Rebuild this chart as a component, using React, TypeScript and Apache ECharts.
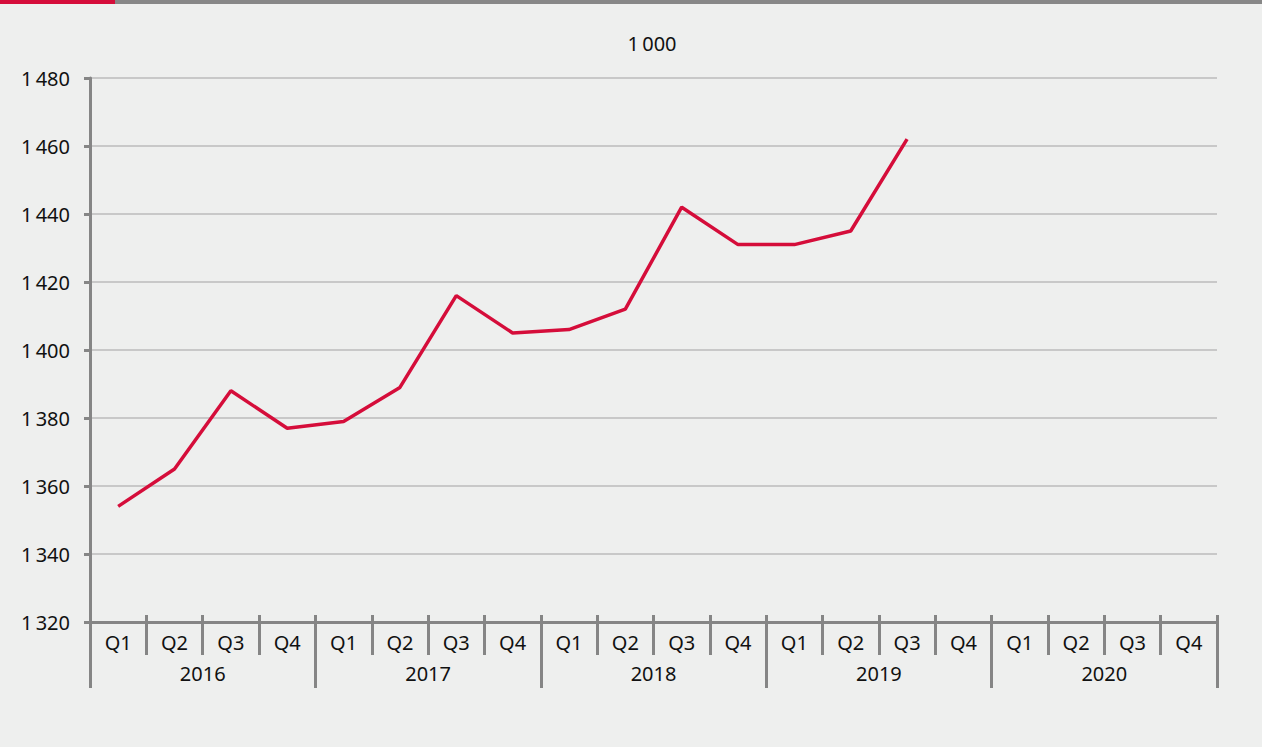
import React, { useEffect, useRef } from "react";
import * as echarts from "echarts";

const quarters = ["Q1", "Q2", "Q3", "Q4"];
const years = ["2016", "2017", "2018", "2019", "2020"];
const categories: string[] = years.flatMap((y) => quarters.map((q) => `${q} ${y}`));
const values: (number | null)[] = [
  1354, 1365, 1388, 1377,
  1379, 1389, 1416, 1405,
  1406, 1412, 1442, 1431,
  1431, 1435, 1462, null,
  null, null, null, null,
];
const unitLabel = "1\u2009000";
const yMin = 1320;
const yMax = 1480;
const yStep = 20;

const fmt = (v: number) => {
  const s = String(Math.round(v));
  return s.replace(/\B(?=(\d{3})+(?!\d))/g, "\u2009");
};

export default function App() {
  const ref = useRef<HTMLDivElement>(null);
  useEffect(() => {
    if (!ref.current) return;
    const chart = echarts.init(ref.current, undefined, { renderer: "svg" });
    const axisGray = "#858585";
    const font = "Noto Sans";
    const fs = 20;
    chart.setOption({
      animation: false,
      backgroundColor: "#eeefee",
      textStyle: { fontFamily: font },
      grid: { left: 90, right: 45, top: 78, bottom: 125 },
      graphic: [
        { type: "rect", shape: { x: 0, y: 0, width: 115, height: 4 }, style: { fill: "#d50d3a" } },
        { type: "rect", shape: { x: 115, y: 0, width: 1147, height: 4 }, style: { fill: "#878787" } },
        {
          type: "text",
          x: 652,
          y: 43,
          style: { text: unitLabel, fontSize: fs, fontFamily: font, fill: "#111", align: "center", verticalAlign: "middle" },
        },
      ],
      xAxis: [
        {
          type: "category",
          data: categories,
          boundaryGap: true,
          position: "bottom",
          axisLine: { show: true, lineStyle: { color: axisGray, width: 3 } },
          axisTick: { show: true, interval: 0, length: 33, lineStyle: { color: axisGray, width: 3 } },
          axisLabel: {
            interval: 0,
            margin: 10,
            fontSize: fs,
            color: "#111",
            fontFamily: font,
            formatter: (v: string) => v.split(" ")[0],
          },
          splitLine: { show: false },
        },
        {
          type: "category",
          data: years,
          boundaryGap: true,
          position: "bottom",
          axisLine: { show: false },
          axisTick: { show: true, interval: 0, length: 66, lineStyle: { color: axisGray, width: 3 } },
          axisLabel: { interval: 0, margin: 41, fontSize: fs, color: "#111", fontFamily: font },
          splitLine: { show: false },
        },
        {
          type: "category",
          data: categories,
          boundaryGap: true,
          position: "bottom",
          axisLine: { show: false },
          axisTick: { show: true, inside: true, interval: 0, length: 7, lineStyle: { color: axisGray, width: 3 } },
          axisLabel: { show: false },
          splitLine: { show: false },
        },
      ],
      yAxis: {
        type: "value",
        min: yMin,
        max: yMax,
        interval: yStep,
        axisLine: { show: true, lineStyle: { color: axisGray, width: 3 } },
        axisTick: { show: true, length: 6, lineStyle: { color: axisGray, width: 3 } },
        axisLabel: { margin: 20, fontSize: fs, color: "#111", fontFamily: font, formatter: (v: number) => fmt(v) },
        splitLine: { show: true, lineStyle: { color: "#c8c8c8", width: 2 } },
      },
      series: [
        {
          type: "line",
          xAxisIndex: 0,
          data: values,
          symbol: "none",
          lineStyle: { color: "#d50d3a", width: 3.5 },
          connectNulls: false,
        },
      ],
    });
    return () => chart.dispose();
  }, []);
  return <div ref={ref} style={{ position: "fixed", left: 0, top: 0, width: 1262, height: 747 }} />;
}
